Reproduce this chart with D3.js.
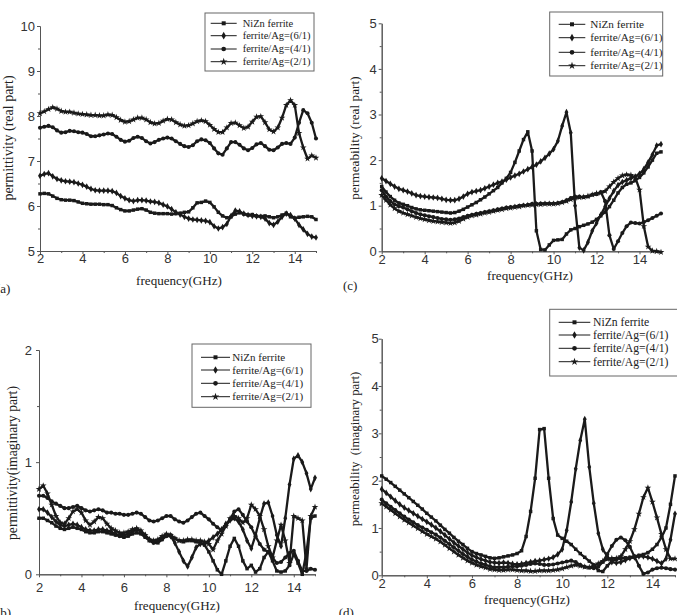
<!DOCTYPE html>
<html>
<head>
<meta charset="utf-8">
<script src="https://cdn.jsdelivr.net/npm/d3@7"></script>
<style>
  body { margin: 0; background: #fff; }
  svg { display: block; }
</style>
</head>
<body>
<svg id="chart" width="677" height="615"></svg>
<script>
// frequency grid (GHz)
const freq = [2.0,2.2,2.4,2.6,2.8,3.0,3.2,3.4,3.6,3.8,4.0,4.2,4.4,4.6,4.8,5.0,5.2,5.4,5.6,5.8,
  6.0,6.2,6.4,6.6,6.8,7.0,7.2,7.4,7.6,7.8,8.0,8.2,8.4,8.6,8.8,9.0,9.2,9.4,9.6,9.8,
  10.0,10.2,10.4,10.6,10.8,11.0,11.2,11.4,11.6,11.8,12.0,12.2,12.4,12.6,12.8,13.0,13.2,13.4,13.6,13.8,
  14.0,14.2,14.4,14.6,14.8,15.0];

const legendNames = ['NiZn ferrite', 'ferrite/Ag=(6/1)', 'ferrite/Ag=(4/1)', 'ferrite/Ag=(2/1)'];
const xTicks = [2, 4, 6, 8, 10, 12, 14];
const xMinor = [3, 5, 7, 9, 11, 13, 15];

// (a) permittivity real part
const epsReNiZn = [6.27,6.28,6.27,6.22,6.17,6.14,6.13,6.13,6.12,6.09,
  6.06,6.05,6.04,6.04,6.04,6.03,6.03,6.01,5.96,5.92,
  5.89,5.89,5.91,5.93,5.94,5.91,5.86,5.84,5.83,5.83,
  5.83,5.82,5.83,5.84,5.86,5.87,5.96,6.07,6.08,6.11,
  6.08,5.98,5.86,5.78,5.74,5.76,5.82,5.85,5.82,5.80,
  5.81,5.78,5.77,5.78,5.76,5.74,5.76,5.80,5.84,5.76,
  5.73,5.75,5.76,5.77,5.76,5.70];
const epsRe61 = [6.67,6.71,6.73,6.66,6.60,6.57,6.55,6.54,6.53,6.50,
  6.47,6.43,6.38,6.35,6.34,6.34,6.34,6.33,6.29,6.22,
  6.17,6.13,6.11,6.13,6.13,6.12,6.10,6.09,6.07,6.03,
  5.99,5.93,5.86,5.81,5.76,5.72,5.70,5.69,5.68,5.67,
  5.64,5.55,5.50,5.53,5.60,5.78,5.90,5.88,5.83,5.80,
  5.78,5.77,5.76,5.72,5.62,5.58,5.65,5.76,5.83,5.80,
  5.72,5.58,5.48,5.38,5.32,5.30];
const epsRe41 = [7.74,7.76,7.78,7.75,7.68,7.63,7.64,7.67,7.66,7.64,
  7.63,7.60,7.55,7.55,7.57,7.59,7.61,7.60,7.54,7.47,
  7.43,7.45,7.51,7.54,7.51,7.44,7.39,7.42,7.47,7.50,
  7.52,7.50,7.44,7.38,7.33,7.31,7.35,7.44,7.48,7.46,
  7.40,7.28,7.17,7.14,7.28,7.42,7.42,7.36,7.28,7.24,
  7.29,7.37,7.40,7.33,7.25,7.24,7.30,7.38,7.40,7.38,
  7.52,7.85,8.13,8.06,7.85,7.50];
const epsRe21 = [8.06,8.10,8.15,8.19,8.16,8.11,8.09,8.09,8.07,8.05,
  8.04,8.03,8.02,8.02,8.01,8.01,8.03,8.02,7.97,7.91,
  7.87,7.88,7.92,7.96,7.96,7.92,7.86,7.83,7.84,7.89,
  7.93,7.92,7.86,7.81,7.78,7.79,7.83,7.88,7.90,7.88,
  7.80,7.71,7.64,7.64,7.74,7.84,7.85,7.79,7.73,7.76,
  7.87,7.98,7.99,7.86,7.70,7.65,7.74,7.96,8.24,8.35,
  8.24,7.62,7.30,7.05,7.12,7.07];

// (b) permittivity imaginary part
const epsImNiZn = [0.50,0.50,0.48,0.46,0.43,0.41,0.40,0.41,0.42,0.41,
  0.40,0.38,0.37,0.37,0.38,0.38,0.37,0.36,0.35,0.34,
  0.33,0.34,0.36,0.37,0.36,0.33,0.30,0.28,0.28,0.31,
  0.34,0.35,0.32,0.30,0.29,0.30,0.30,0.29,0.28,0.26,
  0.20,0.12,0.04,0.00,0.12,0.25,0.32,0.25,0.12,0.05,
  0.08,0.02,0.05,0.15,0.20,0.12,0.03,0.02,0.03,0.08,
  0.18,0.10,0.00,0.20,0.50,0.52];
const epsIm61 = [0.58,0.58,0.55,0.51,0.47,0.44,0.43,0.44,0.45,0.44,
  0.42,0.40,0.39,0.39,0.40,0.40,0.39,0.38,0.36,0.35,
  0.35,0.36,0.38,0.40,0.38,0.35,0.31,0.29,0.30,0.32,
  0.35,0.34,0.28,0.20,0.12,0.07,0.15,0.24,0.27,0.28,
  0.30,0.33,0.36,0.40,0.45,0.48,0.50,0.47,0.40,0.30,
  0.23,0.35,0.50,0.63,0.64,0.52,0.35,0.25,0.50,0.80,
  1.03,1.06,1.00,0.90,0.76,0.86];
const epsIm41 = [0.70,0.70,0.68,0.65,0.63,0.61,0.59,0.59,0.60,0.61,
  0.59,0.57,0.56,0.57,0.58,0.57,0.55,0.55,0.54,0.54,
  0.53,0.53,0.54,0.55,0.54,0.51,0.48,0.47,0.48,0.50,
  0.52,0.52,0.49,0.47,0.46,0.48,0.51,0.54,0.55,0.52,
  0.49,0.45,0.42,0.39,0.43,0.49,0.56,0.58,0.53,0.47,
  0.42,0.34,0.27,0.22,0.20,0.15,0.10,0.11,0.15,0.19,
  0.21,0.12,0.03,0.03,0.05,0.04];
const epsIm21 = [0.76,0.79,0.72,0.62,0.52,0.46,0.45,0.50,0.56,0.58,
  0.55,0.48,0.44,0.47,0.51,0.50,0.45,0.41,0.39,0.37,
  0.37,0.38,0.40,0.41,0.39,0.35,0.31,0.30,0.31,0.34,
  0.36,0.35,0.32,0.30,0.30,0.31,0.31,0.30,0.30,0.29,
  0.27,0.22,0.30,0.36,0.43,0.50,0.52,0.50,0.46,0.50,
  0.62,0.58,0.52,0.40,0.25,0.15,0.30,0.44,0.30,0.10,
  0.52,0.50,0.48,0.05,0.52,0.60];

// (c) permeability real part
const muReNiZn = [1.42,1.30,1.20,1.12,1.06,1.03,1.00,0.96,0.93,0.91,
  0.90,0.89,0.88,0.87,0.86,0.85,0.84,0.85,0.88,0.92,
  0.97,1.02,1.07,1.13,1.19,1.26,1.33,1.40,1.50,1.60,
  1.73,1.95,2.20,2.45,2.62,2.20,0.45,0.04,0.03,0.14,
  0.24,0.25,0.26,0.38,0.47,0.50,0.54,0.57,0.60,0.64,
  0.70,0.78,0.86,0.98,1.12,1.28,1.40,1.47,1.50,1.55,
  1.62,1.72,1.85,2.00,2.15,2.18];
const muRe61 = [1.60,1.54,1.48,1.42,1.37,1.34,1.31,1.27,1.23,1.21,
  1.20,1.19,1.18,1.17,1.15,1.13,1.12,1.12,1.15,1.20,
  1.26,1.30,1.32,1.34,1.38,1.42,1.46,1.50,1.53,1.57,
  1.62,1.66,1.70,1.75,1.80,1.85,1.90,1.97,2.05,2.14,
  2.24,2.42,2.75,3.05,2.60,1.00,0.08,0.02,0.20,0.45,
  0.62,0.80,0.98,1.16,1.32,1.45,1.52,1.56,1.60,1.64,
  1.70,1.80,1.95,2.12,2.32,2.35];
const muRe41 = [1.34,1.20,1.10,1.03,0.99,0.96,0.92,0.88,0.84,0.81,
  0.79,0.77,0.75,0.73,0.71,0.70,0.69,0.70,0.72,0.75,
  0.78,0.80,0.82,0.84,0.86,0.88,0.90,0.92,0.94,0.96,
  0.97,0.98,1.00,1.01,1.02,1.04,1.04,1.05,1.05,1.05,
  1.05,1.06,1.08,1.12,1.17,1.20,1.20,1.19,1.20,1.24,
  1.25,1.30,1.10,0.35,0.05,0.22,0.40,0.55,0.63,0.62,
  0.61,0.64,0.68,0.73,0.78,0.83];
const muRe21 = [1.23,1.12,1.02,0.94,0.88,0.84,0.81,0.78,0.75,0.72,
  0.70,0.68,0.66,0.65,0.64,0.63,0.62,0.63,0.66,0.71,
  0.75,0.78,0.80,0.82,0.84,0.86,0.88,0.90,0.92,0.94,
  0.95,0.97,0.98,1.00,1.01,1.02,1.03,1.03,1.04,1.04,
  1.04,1.05,1.07,1.10,1.14,1.17,1.18,1.19,1.21,1.24,
  1.27,1.28,1.32,1.42,1.52,1.60,1.66,1.68,1.67,1.62,
  1.35,0.55,0.10,0.01,0.00,-0.02];

// (d) permeability imaginary part
const muImNiZn = [2.10,2.03,1.96,1.88,1.80,1.72,1.64,1.56,1.48,1.40,
  1.31,1.23,1.15,1.06,0.97,0.89,0.80,0.72,0.65,0.57,
  0.50,0.46,0.43,0.40,0.37,0.36,0.37,0.39,0.41,0.43,
  0.46,0.52,0.82,1.35,2.05,3.08,3.10,2.05,1.20,0.85,
  0.78,0.72,0.65,0.55,0.46,0.38,0.30,0.22,0.10,0.08,
  0.20,0.30,0.34,0.36,0.37,0.38,0.40,0.42,0.44,0.48,
  0.55,0.65,0.80,1.00,1.50,2.10];
const muIm61 = [1.82,1.74,1.66,1.58,1.50,1.43,1.37,1.31,1.25,1.19,
  1.13,1.07,1.00,0.93,0.85,0.77,0.69,0.62,0.55,0.48,
  0.42,0.38,0.34,0.31,0.28,0.27,0.26,0.27,0.26,0.24,
  0.23,0.24,0.26,0.28,0.30,0.31,0.33,0.35,0.38,0.44,
  0.55,0.95,1.55,2.25,2.85,3.30,2.29,1.52,0.89,0.55,
  0.40,0.28,0.26,0.28,0.32,0.36,0.38,0.40,0.40,0.38,
  0.35,0.30,0.25,0.35,0.75,1.30];
const muIm41 = [1.60,1.52,1.45,1.38,1.31,1.24,1.18,1.12,1.06,1.01,
  0.96,0.91,0.86,0.80,0.73,0.66,0.59,0.52,0.45,0.39,
  0.33,0.29,0.25,0.22,0.19,0.17,0.17,0.17,0.18,0.19,
  0.19,0.20,0.22,0.24,0.25,0.24,0.22,0.22,0.23,0.25,
  0.27,0.29,0.31,0.28,0.22,0.18,0.16,0.15,0.18,0.28,
  0.45,0.62,0.75,0.80,0.74,0.60,0.40,0.20,0.03,0.06,
  0.12,0.15,0.16,0.15,0.13,0.12];
const muIm21 = [1.52,1.45,1.38,1.31,1.24,1.17,1.11,1.05,0.99,0.93,
  0.87,0.82,0.77,0.71,0.64,0.57,0.50,0.43,0.37,0.31,
  0.26,0.22,0.19,0.16,0.13,0.12,0.11,0.11,0.12,0.12,
  0.11,0.10,0.10,0.09,0.09,0.10,0.10,0.10,0.11,0.12,
  0.14,0.17,0.20,0.22,0.20,0.18,0.17,0.20,0.25,0.30,
  0.34,0.36,0.36,0.40,0.55,0.72,0.97,1.30,1.65,1.85,
  1.55,1.22,0.87,0.55,0.35,0.35];

////////////////////////////////////////////////////////
const svg = d3.select('#chart');
const ink = '#1a1a1a';
const axisColor = '#555';
const symbols = [
  {type: d3.symbolSquare, size: 12},
  {type: d3.symbolDiamond, size: 13},
  {type: d3.symbolCircle, size: 13},
  {type: d3.symbolStar, size: 14}
];

const panels = [
  {tag: '(a)', l: 40, r: 316, t: 26, b: 251, yDom: [5, 10], yTicks: [5,6,7,8,9,10], yMinor: [5.5,6.5,7.5,8.5,9.5],
   series: [epsReNiZn, epsRe61, epsRe41, epsRe21], yLabel: 'permittivity (real part)', yLabX: 13, yLabY: 138, yLabSize: 14,
   xLabX: 179, xLabY: 285, tagX: -4, tagY: 293, xPad: 0, yPad: 2,
   leg: {x0: 205, x1: 314, y0: 13, y1: 71, rows: [23.3, 35.7, 49, 61.7], l0: 210.7, l1: 236.7, tx: 242.7, fs: 10.5}},
  {tag: '(b)', l: 39, r: 315, t: 350, b: 574.3, yDom: [0, 2], yTicks: [0,1,2], yMinor: [0.5,1.5],
   series: [epsImNiZn, epsIm61, epsIm41, epsIm21], yLabel: 'permittivity(imaginary part)', yLabX: 17, yLabY: 463, yLabSize: 13.7,
   xLabX: 177, xLabY: 610, tagX: -4, tagY: 617, xPad: 5.5, yPad: 4,
   leg: {x0: 192, x1: 311, y0: 344, y1: 407.3, rows: [357.3, 370, 383.3, 396.7], l0: 201, l1: 230, tx: 232.3, fs: 11}},
  {tag: '(c)', l: 381.7, r: 661, t: 23.3, b: 251.3, yDom: [0, 5], yTicks: [0,1,2,3,4,5], yMinor: [0.5,1.5,2.5,3.5,4.5],
   series: [muReNiZn, muRe61, muRe41, muRe21], yLabel: 'permeability (real part)', yLabX: 359, yLabY: 138, yLabSize: 13.3,
   xLabX: 530, xLabY: 280, tagX: 343, tagY: 290, xPad: 0, yPad: 2,
   leg: {x0: 549.7, x1: 662.7, y0: 12, y1: 76, rows: [24.3, 37.7, 52.3, 65.7], l0: 558.7, l1: 585.3, tx: 590.3, fs: 11.2}},
  {tag: '(d)', l: 381.7, r: 675, t: 338.7, b: 575.3, yDom: [0, 5], yTicks: [0,1,2,3,4,5], yMinor: [0.5,1.5,2.5,3.5,4.5],
   series: [muImNiZn, muIm61, muIm41, muIm21], yLabel: 'permeability  (imaginary part)', yLabX: 359, yLabY: 449, yLabSize: 12.8,
   xLabX: 527, xLabY: 604, tagX: 338.7, tagY: 617, xPad: 0.5, yPad: 0,
   leg: {x0: 549.7, x1: 678, y0: 309.3, y1: 376, rows: [322.3, 335, 348.3, 361.7], l0: 558.7, l1: 590.3, tx: 593, fs: 11.7}}
];

panels.forEach(drawPanel);

function styleAxis(g) {
  g.select('.domain').attr('stroke', axisColor);
  g.selectAll('.tick line').attr('stroke', axisColor);
  g.selectAll('.tick text')
    .attr('fill', '#333')
    .attr('font-family', '"Liberation Sans", Arial, sans-serif')
    .attr('font-size', 13);
}

function drawPanel(p) {
  const g = svg.append('g');
  const x = d3.scaleLinear().domain([2, 15]).range([p.l, p.r]);
  const y = d3.scaleLinear().domain(p.yDom).range([p.b, p.t]);

  // minor ticks first, then major axes on top
  g.append('g')
    .attr('transform', 'translate(0,' + p.b + ')')
    .call(d3.axisBottom(x).tickValues(xMinor).tickSize(2).tickSizeOuter(0).tickFormat(''))
    .call(styleAxis);
  g.append('g')
    .attr('transform', 'translate(' + p.l + ',0)')
    .call(d3.axisLeft(y).tickValues(p.yMinor).tickSize(2).tickSizeOuter(0).tickFormat(''))
    .call(styleAxis);

  g.append('g')
    .attr('transform', 'translate(0,' + p.b + ')')
    .call(d3.axisBottom(x).tickValues(xTicks).tickSize(3).tickSizeOuter(0).tickPadding(p.xPad).tickFormat(d3.format('d')))
    .call(styleAxis);
  g.append('g')
    .attr('transform', 'translate(' + p.l + ',0)')
    .call(d3.axisLeft(y).tickValues(p.yTicks).tickSize(3).tickSizeOuter(0).tickPadding(p.yPad).tickFormat(d3.format('d')))
    .call(styleAxis);

  // curves: a thick rope of line plus small markers, like the dense scans
  const line = d3.line().x((d, i) => x(freq[i])).y(d => y(d));
  p.series.forEach((vals, k) => {
    g.append('path')
      .attr('d', line(vals))
      .attr('fill', 'none')
      .attr('stroke', ink)
      .attr('stroke-width', 2.3)
      .attr('stroke-linejoin', 'round');
    const sym = d3.symbol().type(symbols[k].type).size(symbols[k].size);
    g.selectAll('.m' + k)
      .data(vals)
      .enter().append('path')
      .attr('class', 'm' + k)
      .attr('transform', (d, i) => 'translate(' + x(freq[i]) + ',' + y(d) + ')')
      .attr('d', sym)
      .attr('fill', ink);
  });

  // axis titles
  const serif = '"Liberation Serif", "Times New Roman", serif';
  g.append('text')
    .attr('transform', 'translate(' + p.yLabX + ',' + p.yLabY + ') rotate(-90)')
    .attr('text-anchor', 'middle')
    .attr('font-family', serif)
    .attr('font-size', p.yLabSize)
    .style('white-space', 'pre')
    .attr('fill', '#222')
    .text(p.yLabel);
  g.append('text')
    .attr('x', p.xLabX).attr('y', p.xLabY)
    .attr('text-anchor', 'middle')
    .attr('font-family', serif)
    .attr('font-size', 13.1)
    .attr('fill', '#222')
    .text('frequency(GHz)');
  g.append('text')
    .attr('x', p.tagX).attr('y', p.tagY)
    .attr('font-family', serif)
    .attr('font-size', 13)
    .attr('fill', '#222')
    .text(p.tag);

  // legend
  const L = p.leg;
  const lg = g.append('g');
  lg.append('rect')
    .attr('x', L.x0).attr('y', L.y0)
    .attr('width', L.x1 - L.x0).attr('height', L.y1 - L.y0)
    .attr('fill', '#fff').attr('stroke', '#666').attr('stroke-width', 1);
  legendNames.forEach((name, k) => {
    const yy = L.rows[k];
    lg.append('line')
      .attr('x1', L.l0).attr('x2', L.l1).attr('y1', yy).attr('y2', yy)
      .attr('stroke', ink).attr('stroke-width', 1);
    lg.append('path')
      .attr('transform', 'translate(' + ((L.l0 + L.l1) / 2) + ',' + yy + ')')
      .attr('d', d3.symbol().type(symbols[k].type).size(symbols[k].size + 4)())
      .attr('fill', ink);
    lg.append('text')
      .attr('x', L.tx).attr('y', yy + L.fs * 0.33)
      .attr('font-family', serif)
      .attr('font-size', L.fs)
      .attr('fill', '#222')
      .text(name);
  });
}
</script>
</body>
</html>
